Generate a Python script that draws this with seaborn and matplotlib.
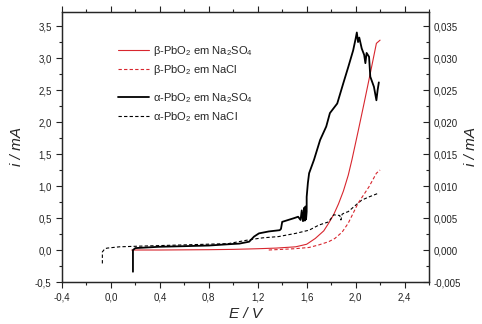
import numpy as np
import pandas as pd
import seaborn as sns
import matplotlib.pyplot as plt
from matplotlib.lines import Line2D
from matplotlib.ticker import MultipleLocator, FuncFormatter

# --- data (E in V, i in mA) ---
# alpha-PbO2 in Na2SO4 (left axis)
e_alpha_so4 = [0.18, 0.18, 0.20, 0.39, 0.60, 0.80, 0.96, 1.05, 1.13, 1.15, 1.17, 1.21,
               1.29, 1.38, 1.39, 1.40, 1.45, 1.50, 1.53, 1.55, 1.56, 1.57, 1.58, 1.585,
               1.59, 1.595, 1.60, 1.60, 1.61, 1.62, 1.66, 1.71, 1.76, 1.79, 1.85, 1.90,
               1.94, 1.98, 2.00, 2.01, 2.02, 2.03, 2.05, 2.07, 2.08, 2.09, 2.11, 2.12,
               2.15, 2.17, 2.18, 2.19]
i_alpha_so4 = [-0.34, 0.0, 0.03, 0.05, 0.06, 0.07, 0.09, 0.10, 0.13, 0.17, 0.21, 0.26,
               0.29, 0.31, 0.33, 0.44, 0.47, 0.50, 0.52, 0.47, 0.62, 0.45, 0.66, 0.46,
               0.68, 0.48, 0.60, 0.83, 1.05, 1.20, 1.41, 1.72, 1.93, 2.14, 2.29, 2.61,
               2.86, 3.12, 3.30, 3.40, 3.25, 3.32, 3.15, 3.05, 2.92, 3.08, 3.02, 2.71,
               2.55, 2.34, 2.50, 2.62]

# beta-PbO2 in Na2SO4 (left axis)
e_beta_so4 = [0.17, 0.40, 0.80, 1.00, 1.20, 1.35, 1.51, 1.60, 1.67, 1.74, 1.78, 1.82,
              1.86, 1.90, 1.94, 1.97, 2.02, 2.07, 2.12, 2.17, 2.20]
i_beta_so4 = [0.0, 0.0, 0.005, 0.01, 0.02, 0.03, 0.05, 0.09, 0.18, 0.30, 0.42, 0.55,
              0.72, 0.92, 1.17, 1.41, 1.85, 2.30, 2.76, 3.23, 3.28]

# beta-PbO2 in NaCl (right axis)
e_beta_cl = [1.29, 1.50, 1.62, 1.70, 1.78, 1.83, 1.89, 1.94, 2.02, 2.11, 2.17, 2.20]
i_beta_cl = [0.0, 0.0002, 0.0004, 0.0008, 0.0013, 0.0018, 0.0028, 0.0042, 0.0073,
             0.0099, 0.0120, 0.0125]

# alpha-PbO2 in NaCl (right axis)
e_alpha_cl = [-0.07, -0.07, -0.05, -0.03, 0.07, 0.23, 0.60, 0.96, 1.13, 1.24, 1.37,
              1.51, 1.62, 1.70, 1.78, 1.82, 1.87, 1.88, 1.89, 1.91, 1.94, 2.00, 2.05,
              2.11, 2.15, 2.19]
i_alpha_cl = [-0.0021, -0.0003, 0.0002, 0.0003, 0.0005, 0.0006, 0.0008, 0.0010, 0.0016,
              0.0019, 0.0021, 0.0026, 0.0031, 0.0039, 0.0044, 0.0055, 0.0054, 0.0047,
              0.0056, 0.0058, 0.0060, 0.0070, 0.0078, 0.0083, 0.0086, 0.0089]

labels = [u'\u03b2-PbO$_2$ em Na$_2$SO$_4$', u'\u03b2-PbO$_2$ em NaCl',
          u'\u03b1-PbO$_2$ em Na$_2$SO$_4$', u'\u03b1-PbO$_2$ em NaCl']

red = '#d8262e'

sns.set_style('ticks')
plt.rcParams['font.family'] = ['Liberation Sans', 'DejaVu Sans']
plt.rcParams['mathtext.fontset'] = 'custom'
plt.rcParams['mathtext.rm'] = 'Liberation Sans'
plt.rcParams['mathtext.it'] = 'Liberation Sans:italic'

fig = plt.figure(figsize=(4.82, 3.24), dpi=100)
ax = fig.add_axes([62 / 482, 1 - 282 / 324, 367 / 482, 270 / 324])
ax2 = ax.twinx()

sns.lineplot(x=e_alpha_cl, y=i_alpha_cl, ax=ax2, sort=False, estimator=None,
             color='black', lw=0.8, linestyle=(0, (3, 2)))
sns.lineplot(x=e_beta_cl, y=i_beta_cl, ax=ax2, sort=False, estimator=None,
             color=red, lw=0.8, linestyle=(0, (3, 2)))
sns.lineplot(x=e_beta_so4, y=i_beta_so4, ax=ax, sort=False, estimator=None,
             color=red, lw=0.8)
sns.lineplot(x=e_alpha_so4, y=i_alpha_so4, ax=ax, sort=False, estimator=None,
             color='black', lw=1.3)

ax.set_xlim(-0.4, 2.6)
ax.set_ylim(-0.5, 3.72)
ax2.set_ylim(-0.005, 0.0372)

comma = lambda fmt: FuncFormatter(lambda v, p: (fmt % v).replace('.', ','))
ax.xaxis.set_major_locator(MultipleLocator(0.4))
ax.xaxis.set_minor_locator(MultipleLocator(0.2))
ax.xaxis.set_major_formatter(comma('%.1f'))
ax.yaxis.set_major_locator(MultipleLocator(0.5))
ax.yaxis.set_minor_locator(MultipleLocator(0.25))
ax.yaxis.set_major_formatter(comma('%.1f'))
ax2.yaxis.set_major_locator(MultipleLocator(0.005))
ax2.yaxis.set_minor_locator(MultipleLocator(0.0025))
ax2.yaxis.set_major_formatter(comma('%.3f'))

ax.tick_params(which='both', direction='out', labelsize=7, width=0.8, colors='#222222')
ax.tick_params(which='major', length=4)
ax.tick_params(which='minor', length=2.5)
ax.tick_params(axis='x', top=True, which='both')
ax2.tick_params(which='both', direction='in', labelsize=7, width=0.8, colors='#222222')
ax2.tick_params(which='major', length=4)
ax2.tick_params(which='minor', length=2.5)
for a in (ax, ax2):
    for s in a.spines.values():
        s.set_visible(True)
        s.set_linewidth(0.9)

ax.set_xlabel('E / V', style='italic', fontsize=11, labelpad=3)
ax.set_ylabel('i / mA', style='italic', fontsize=11, labelpad=8)
ax2.set_ylabel('i / mA', style='italic', fontsize=11, labelpad=2)

h1 = [Line2D([], [], color=red, lw=0.8), Line2D([], [], color=red, lw=0.8, linestyle=(0, (3, 2)))]
h2 = [Line2D([], [], color='black', lw=1.3), Line2D([], [], color='black', lw=0.8, linestyle=(0, (3, 2)))]
leg1 = ax.legend(h1, labels[:2], loc='upper left', bbox_to_anchor=(0.125, 0.92), frameon=False,
                 fontsize=8, handlelength=2.8, handletextpad=0.4, labelspacing=0.5)
ax.add_artist(leg1)
ax.legend(h2, labels[2:], loc='upper left', bbox_to_anchor=(0.125, 0.745), frameon=False,
          fontsize=8, handlelength=2.8, handletextpad=0.4, labelspacing=0.5)

fig.savefig('out.png', dpi=100)
